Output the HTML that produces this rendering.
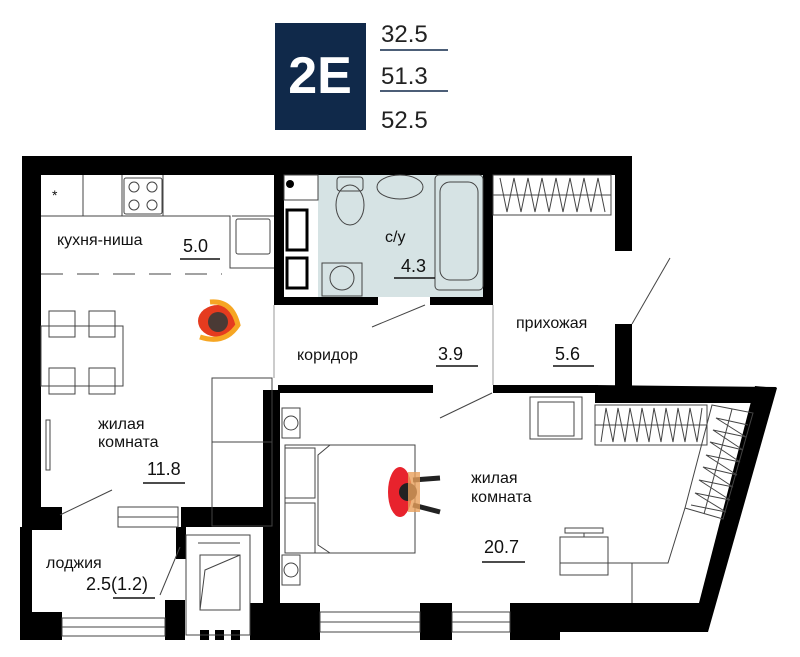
<!DOCTYPE html>
<html><head><meta charset="utf-8"><style>
html,body{margin:0;padding:0;background:#fff;}
svg{display:block;}
text{font-family:"Liberation Sans",sans-serif;}
</style></head><body>
<svg width="800" height="657" viewBox="0 0 800 657" xmlns="http://www.w3.org/2000/svg">
<rect x="275" y="23" width="91" height="107" fill="#10294a"/>
<text x="320" y="93" font-size="52" font-weight="bold" fill="#fff" text-anchor="middle">2E</text>
<g font-size="24" fill="#222">
<text x="381" y="42">32.5</text>
<text x="381" y="84">51.3</text>
<text x="381" y="128">52.5</text>
</g>
<line x1="380" y1="50" x2="448" y2="50" stroke="#10294a" stroke-width="1.5"/>
<line x1="380" y1="91" x2="448" y2="91" stroke="#10294a" stroke-width="1.5"/>

<rect x="318" y="175" width="165" height="122" fill="#d6e3e4"/>

<g fill="#000">
<rect x="22" y="156" width="610" height="19"/>
<rect x="22" y="156" width="19" height="374"/>
<rect x="274" y="175" width="10" height="130"/>
<rect x="274" y="297" width="104" height="8"/>
<rect x="430" y="297" width="63" height="8"/>
<rect x="483" y="175" width="10" height="130"/>
<rect x="615" y="156" width="17" height="95"/>
<rect x="615" y="324" width="17" height="66"/>
<rect x="278" y="385" width="155" height="8"/>
<rect x="493" y="385" width="105" height="8"/>
<polygon points="595,385 777,387 755,403 595,403"/>
<polygon points="755,386 777,388 708,632 699,632 699,603"/>
<rect x="263" y="390" width="17" height="250"/>
<rect x="22" y="507" width="40" height="23"/>
<rect x="181" y="507" width="95" height="20"/>
<rect x="20" y="527" width="12" height="113"/>
<rect x="30" y="612" width="32" height="28"/>
<rect x="165" y="600" width="20" height="40"/>
<rect x="176" y="527" width="10" height="32"/>
<rect x="250" y="603" width="70" height="37"/>
<rect x="420" y="603" width="32" height="37"/>
<rect x="510" y="603" width="50" height="37"/>
<rect x="560" y="603" width="145" height="29"/>
<rect x="200" y="630" width="9" height="10"/>
<rect x="215" y="630" width="9" height="10"/>
<rect x="231" y="630" width="9" height="10"/>
</g>

<g fill="none" stroke="#444" stroke-width="1">
<rect x="320" y="612" width="100" height="20"/><line x1="320" y1="622" x2="420" y2="622"/>
<rect x="452" y="612" width="58" height="20"/><line x1="452" y1="622" x2="510" y2="622"/>
<rect x="62" y="618" width="103" height="18"/><line x1="62" y1="627" x2="165" y2="627"/>
<rect x="118" y="507" width="60" height="10"/><rect x="118" y="517" width="60" height="10"/>
<rect x="46" y="420" width="4" height="50"/>
<polyline points="41,216 230,216 230,268 274,268"/>
<line x1="83" y1="175" x2="83" y2="216"/>
<line x1="122" y1="175" x2="122" y2="216"/>
<line x1="163" y1="175" x2="163" y2="216"/>
<rect x="124" y="178" width="38" height="36" rx="2"/>
<circle cx="134" cy="187" r="5"/><circle cx="152" cy="187" r="5"/>
<circle cx="134" cy="205" r="5"/><circle cx="152" cy="205" r="5"/>
<rect x="236" y="219" width="34" height="35" rx="2"/>
<line x1="232" y1="216" x2="274" y2="216"/>
<line x1="41" y1="274" x2="222" y2="274" stroke-dasharray="22,14"/>
<rect x="41" y="326" width="82" height="60"/>
<rect x="49" y="311" width="26" height="26"/><rect x="89" y="311" width="26" height="26"/>
<rect x="49" y="368" width="26" height="26"/><rect x="89" y="368" width="26" height="26"/>
<rect x="212" y="378" width="60" height="148"/>
<line x1="212" y1="442" x2="272" y2="442"/>
<line x1="60" y1="515" x2="112" y2="490"/>
<line x1="372" y1="327" x2="425" y2="305"/>
<line x1="440" y1="418" x2="492" y2="393"/>
<line x1="632" y1="324" x2="670" y2="258"/>
<line x1="160" y1="595" x2="180" y2="547"/>
<line x1="274" y1="305" x2="274" y2="378" stroke="#999"/>
<line x1="493" y1="305" x2="493" y2="385" stroke="#999"/>
<rect x="435" y="175" width="48" height="115" rx="4"/>
<rect x="440" y="182" width="38" height="98" rx="10"/>
<ellipse cx="350" cy="205" rx="14" ry="20"/>
<rect x="337" y="177" width="26" height="14" rx="3"/>
<ellipse cx="400" cy="187" rx="23" ry="12"/>
<rect x="322" y="263" width="40" height="33"/><circle cx="342" cy="278" r="12"/>
<rect x="284" y="175" width="34" height="25"/>
<rect x="493" y="175" width="118" height="40"/>
<line x1="493" y1="195" x2="611" y2="195"/>
<polyline points="500,178 507,212 514,178 521,212 528,178 535,212 542,178 549,212 556,178 563,212 570,178 577,212 584,178 591,212 598,178 605,212"/>
<rect x="186" y="535" width="64" height="100"/>
<rect x="200" y="555" width="40" height="55"/>
<polyline points="200,610 205,570 240,555"/>
<line x1="198" y1="543" x2="240" y2="543"/>
<rect x="285" y="445" width="130" height="108"/>
<rect x="285" y="448" width="30" height="50"/><rect x="285" y="503" width="30" height="50"/>
<polyline points="330,445 318,455 318,545 330,553"/>
<rect x="282" y="408" width="18" height="30"/><circle cx="291" cy="423" r="7"/>
<rect x="282" y="555" width="18" height="30"/><circle cx="291" cy="570" r="7"/>
<rect x="530" y="397" width="52" height="42"/><rect x="538" y="402" width="36" height="34"/>
<rect x="595" y="405" width="112" height="40"/>
<line x1="595" y1="425" x2="707" y2="425"/>
<polyline points="601,442 606,408 613,442 618,408 625,442 630,408 637,442 642,408 649,442 654,408 661,442 666,408 673,442 678,408 685,442 690,408 697,442 702,408"/>
<polygon points="712,405 753,413 723,519 685,508"/>
<line x1="732" y1="409" x2="704" y2="514"/>
<polyline points="748,425 716,418 746,437 713,430 743,450 710,442 740,462 706,455 737,475 703,467 733,487 699,480 730,500 695,493 726,512 691,505"/>
<polyline points="685,508 668,563 560,563"/>
<line x1="632" y1="563" x2="632" y2="603"/>
<rect x="560" y="537" width="48" height="38"/>
<rect x="565" y="528" width="38" height="5"/>
<line x1="584" y1="533" x2="584" y2="537"/>
</g>
<circle cx="290" cy="184" r="4" fill="#000"/>
<rect x="287" y="210" width="20" height="40" fill="none" stroke="#000" stroke-width="3"/>
<rect x="287" y="258" width="20" height="30" fill="none" stroke="#000" stroke-width="3"/>

<ellipse cx="218" cy="321" rx="20" ry="16" fill="#e53b1f"/>
<path d="M200,337 Q225,345 238,325 Q232,300 210,302" fill="none" stroke="#f6a623" stroke-width="5"/>
<circle cx="218" cy="322" r="10" fill="#4a3a35"/>
<ellipse cx="400" cy="492" rx="12" ry="25" fill="#e8232d"/>
<circle cx="408" cy="492" r="9" fill="#222"/>
<path d="M413,480 L440,478 M413,505 L440,512" stroke="#222" stroke-width="5"/>
<rect x="408" y="472" width="12" height="40" fill="#e9a05b" opacity="0.8"/>

<g font-size="16" fill="#111">
<text x="57" y="245">кухня-ниша</text>
<text x="183" y="252" font-size="18">5.0</text>
<text x="385" y="242">с/у</text>
<text x="401" y="272" font-size="18">4.3</text>
<text x="297" y="360">коридор</text>
<text x="438" y="360" font-size="18">3.9</text>
<text x="516" y="328">прихожая</text>
<text x="555" y="360" font-size="18">5.6</text>
<text x="98" y="429">жилая</text>
<text x="98" y="447">комната</text>
<text x="147" y="475" font-size="18">11.8</text>
<text x="471" y="483">жилая</text>
<text x="471" y="502">комната</text>
<text x="484" y="553" font-size="18">20.7</text>
<text x="46" y="568">лоджия</text>
<text x="86" y="590" font-size="18">2.5(1.2)</text>
<text x="52" y="200" font-size="14">*</text>
</g>
<g stroke="#111" stroke-width="1.5">
<line x1="180" y1="259" x2="220" y2="259"/>
<line x1="394" y1="278" x2="435" y2="278"/>
<line x1="436" y1="366" x2="478" y2="366"/>
<line x1="553" y1="366" x2="594" y2="366"/>
<line x1="143" y1="483" x2="185" y2="483"/>
<line x1="482" y1="562" x2="525" y2="562"/>
<line x1="113" y1="598" x2="155" y2="598"/>
</g>
</svg>
</body></html>
